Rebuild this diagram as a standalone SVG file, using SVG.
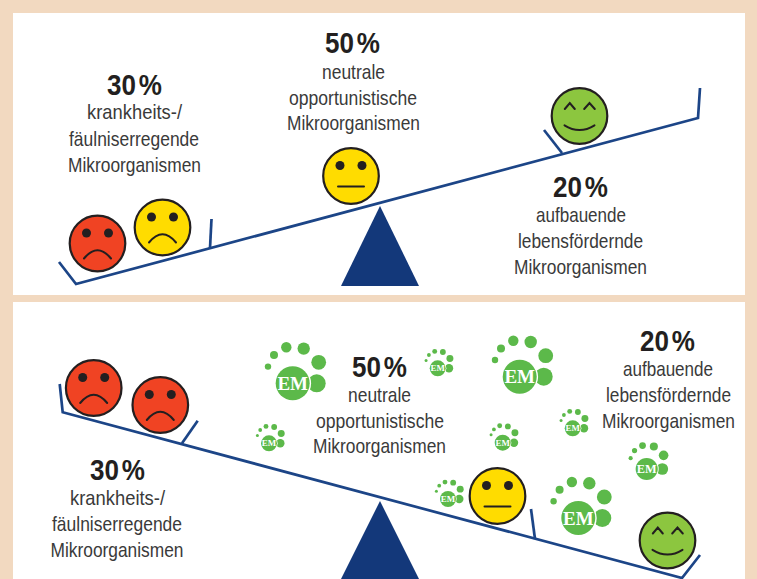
<svg xmlns="http://www.w3.org/2000/svg" width="757" height="579" viewBox="0 0 757 579">
<style>
.beam{fill:none;stroke:#1c4587;stroke-width:2.7;stroke-linejoin:miter}
.face{stroke:#231f20;stroke-width:2.2}
.ln{fill:none;stroke:#231f20;stroke-width:2;stroke-linecap:round}
.eye{fill:#231f20}
.red{fill:#f04323}.yel{fill:#ffdc00}.grn{fill:#8cc63f}
.pv{fill:#13387a}
.p{fill:#5cb94a}
.t{font-family:"Liberation Sans",Arial,sans-serif;font-size:21px;fill:#3a3a3a}
.h{font-family:"Liberation Sans",Arial,sans-serif;font-size:30px;font-weight:bold;fill:#231f20;word-spacing:-5px}
.em{font-family:"Liberation Serif","Times New Roman",serif;font-size:19px;font-weight:bold;fill:#fff;text-anchor:middle}
</style>
<defs>
<g id="sad"><circle class="face" r="27.8" style="fill:inherit"/><circle class="eye" cx="-11" cy="-10.5" r="4.5"/><circle class="eye" cx="11" cy="-10.5" r="4.5"/><path class="ln" d="M-13.5 15Q0 -1.500 13.500 15"/></g>
<g id="neu"><circle class="face" r="27.8" style="fill:inherit"/><circle class="eye" cx="-11" cy="-10.5" r="4.5"/><circle class="eye" cx="11" cy="-10.5" r="4.5"/><path class="ln" d="M-13 10.5H13"/></g>
<g id="hap"><circle class="face" r="27.8" style="fill:inherit"/><path class="ln" d="M-14.700 -7L-9.700 -13L-4.700 -7M4.700 -7L10 -13L15.300 -7"/><path class="ln" d="M-15 9.300Q0 18.700 15 9.300"/></g>
<g id="paw"><circle class="p" cx="-24.7" cy="-16.7" r="3.2"/><circle class="p" cx="-18.7" cy="-28.3" r="4"/><circle class="p" cx="-6.4" cy="-36" r="5.2"/><circle class="p" cx="11" cy="-34.7" r="6.2"/><circle class="p" cx="26" cy="-21" r="7.4"/><circle class="p" cx="24" cy="0" r="9"/><circle r="18.4" fill="#fff"/><circle class="p" r="17"/></g>
</defs>
<rect width="757" height="579" fill="#f2d9c0"/>
<rect x="13" y="13" width="732" height="282" fill="#fff"/>
<rect x="13" y="302" width="732" height="277" fill="#fff"/>

<g id="connectors">
<path class="beam" d="M59 262L76 284L698 118L700 88"/>
<path class="beam" d="M210 248L211.500 219"/>
<path class="beam" d="M562 153L544 130"/>
<path class="beam" d="M59.700 384L62.700 412.300L682 578L700 555"/>
<path class="beam" d="M182 443.300L197.700 420.700"/>
<path class="beam" d="M535 539L531 509"/>
</g>

<g id="pivot-top"><path class="pv" d="M380 206L419 286H341Z"/></g>
<g id="pivot-bottom"><path class="pv" d="M380 501L419 579H341Z"/></g>

<g id="face-top-red" class="red"><use href="#sad" transform="translate(97.500 243.500)"/></g>
<g id="face-top-yellow-sad" class="yel"><use href="#sad" transform="translate(162.500 227.500)"/></g>
<g id="face-top-yellow" class="yel"><use href="#neu" transform="translate(351 176)"/></g>
<g id="face-top-green" class="grn"><use href="#hap" transform="translate(579.500 116)"/></g>
<g id="face-bottom-red1" class="red"><use href="#sad" transform="translate(93.700 388)"/></g>
<g id="face-bottom-red2" class="red"><use href="#sad" transform="translate(160.300 405)"/></g>
<g id="face-bottom-yellow" class="yel"><use href="#neu" transform="translate(497.500 496)"/></g>
<g id="face-bottom-green" class="grn"><use href="#hap" transform="translate(667.500 540.500)"/></g>

<g id="em1" transform="translate(292.700 383.300)"><use href="#paw"/><text class="em" y="6.500">EM</text></g>
<g id="em2" transform="translate(519.700 376.700)"><use href="#paw"/><text class="em" y="6.500">EM</text></g>
<g id="em3" transform="translate(578.300 518)"><use href="#paw"/><text class="em" y="6.500">EM</text></g>
<g id="em4" transform="translate(646.700 469) scale(.65)"><use href="#paw"/><text class="em" y="6.500">EM</text></g>
<g id="em5" transform="translate(572.700 428.300) scale(.47)"><use href="#paw"/><text class="em" y="6.500">EM</text></g>
<g id="em6" transform="translate(502.700 442.700) scale(.47)"><use href="#paw"/><text class="em" y="6.500">EM</text></g>
<g id="em7" transform="translate(437.700 368.300) scale(.47)"><use href="#paw"/><text class="em" y="6.500">EM</text></g>
<g id="em8" transform="translate(269 443.300) scale(.47)"><use href="#paw"/><text class="em" y="6.500">EM</text></g>
<g id="em9" transform="translate(448 499) scale(.47)"><use href="#paw"/><text class="em" y="6.500">EM</text></g>

<g id="label-top-30">
<text class="h" x="107" y="95" textLength="55" lengthAdjust="spacingAndGlyphs">30 %</text>
<text class="t" x="87" y="119" textLength="95" lengthAdjust="spacingAndGlyphs">krankheits-/</text>
<text class="t" x="69" y="146" textLength="130" lengthAdjust="spacingAndGlyphs">fäulniserregende</text>
<text class="t" x="68" y="172" textLength="133" lengthAdjust="spacingAndGlyphs">Mikroorganismen</text>
</g>
<g id="label-top-50">
<text class="h" x="325" y="53" textLength="55" lengthAdjust="spacingAndGlyphs">50 %</text>
<text class="t" x="322" y="79" textLength="63" lengthAdjust="spacingAndGlyphs">neutrale</text>
<text class="t" x="289" y="104.500" textLength="128" lengthAdjust="spacingAndGlyphs">opportunistische</text>
<text class="t" x="287" y="130" textLength="133" lengthAdjust="spacingAndGlyphs">Mikroorganismen</text>
</g>
<g id="label-top-20">
<text class="h" x="553" y="197" textLength="55" lengthAdjust="spacingAndGlyphs">20 %</text>
<text class="t" x="536" y="222" textLength="90" lengthAdjust="spacingAndGlyphs">aufbauende</text>
<text class="t" x="518" y="248" textLength="125" lengthAdjust="spacingAndGlyphs">lebensfördernde</text>
<text class="t" x="514" y="274" textLength="133" lengthAdjust="spacingAndGlyphs">Mikroorganismen</text>
</g>
<g id="label-bottom-30">
<text class="h" x="90" y="480" textLength="55" lengthAdjust="spacingAndGlyphs">30 %</text>
<text class="t" x="70" y="505" textLength="95" lengthAdjust="spacingAndGlyphs">krankheits-/</text>
<text class="t" x="52" y="531" textLength="130" lengthAdjust="spacingAndGlyphs">fäulniserregende</text>
<text class="t" x="50.500" y="557" textLength="133" lengthAdjust="spacingAndGlyphs">Mikroorganismen</text>
</g>
<g id="label-bottom-50">
<text class="h" x="352" y="377" textLength="55" lengthAdjust="spacingAndGlyphs">50 %</text>
<text class="t" x="348" y="402" textLength="63" lengthAdjust="spacingAndGlyphs">neutrale</text>
<text class="t" x="316" y="428" textLength="128" lengthAdjust="spacingAndGlyphs">opportunistische</text>
<text class="t" x="313" y="453" textLength="133" lengthAdjust="spacingAndGlyphs">Mikroorganismen</text>
</g>
<g id="label-bottom-20">
<text class="h" x="640" y="351" textLength="55" lengthAdjust="spacingAndGlyphs">20 %</text>
<text class="t" x="623" y="376" textLength="90" lengthAdjust="spacingAndGlyphs">aufbauende</text>
<text class="t" x="606" y="402" textLength="125" lengthAdjust="spacingAndGlyphs">lebensfördernde</text>
<text class="t" x="602" y="428" textLength="133" lengthAdjust="spacingAndGlyphs">Mikroorganismen</text>
</g>
</svg>
